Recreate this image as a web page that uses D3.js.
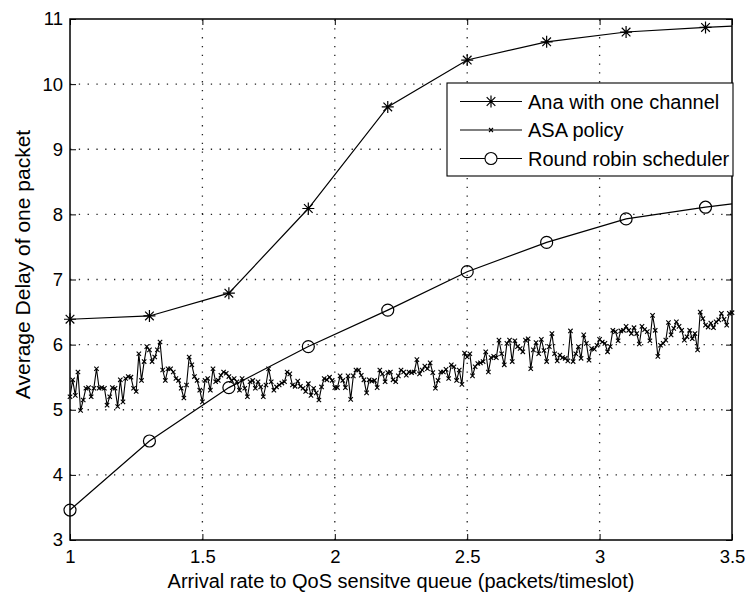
<!DOCTYPE html>
<html>
<head>
<meta charset="utf-8">
<script src="https://cdn.jsdelivr.net/npm/d3@7"></script>
<style>
  body { margin: 0; background: #fff; }
  text { font-family: "Liberation Sans", Arial, sans-serif; fill: #000; }
</style>
</head>
<body>
<div id="wrapper"></div>
<script>
// DATA
const rateX = [1, 1.3, 1.6, 1.9, 2.2, 2.5, 2.8, 3.1, 3.4, 3.5];
const anaDelay = [6.39, 6.44, 6.79, 8.09, 9.65, 10.37, 10.65, 10.80, 10.87, 10.89];
const rrDelay = [3.46, 4.52, 5.34, 5.97, 6.53, 7.12, 7.57, 7.93, 8.11, 8.16];

// ASA policy, sampled every 0.01 from 1.00 to 3.50
const asaStart = 1;
const asaStep = 0.01;
const asaDelay = [
  5.20, 5.46, 5.22, 5.58, 4.99, 5.15, 5.33, 5.34, 5.20, 5.33,
  5.63, 5.33, 5.34, 5.33, 5.07, 5.20, 5.34, 5.33, 5.05, 5.46,
  5.12, 5.48, 5.51, 5.50, 5.33, 5.28, 5.86, 5.45, 5.74, 5.97,
  5.92, 5.74, 5.81, 5.92, 6.04, 5.61, 5.45, 5.63, 5.63, 5.58,
  5.48, 5.45, 5.33, 5.18, 5.38, 5.81, 5.69, 5.51, 5.45, 5.30,
  5.12, 5.45, 5.48, 5.30, 5.63, 5.43, 5.45, 5.53, 5.58, 5.56,
  5.51, 5.45, 5.48, 5.43, 5.30, 5.48, 5.33, 5.20, 5.43, 5.45,
  5.33, 5.43, 5.35, 5.20, 5.38, 5.63, 5.43, 5.30, 5.35, 5.38,
  5.41, 5.43, 5.58, 5.55, 5.38, 5.36, 5.44, 5.36, 5.33, 5.28,
  5.40, 5.22, 5.33, 5.26, 5.15, 5.35, 5.48, 5.46, 5.50, 5.45,
  5.34, 5.34, 5.52, 5.45, 5.34, 5.52, 5.16, 5.52, 5.61, 5.61,
  5.53, 5.46, 5.26, 5.46, 5.44, 5.45, 5.34, 5.61, 5.55, 5.43,
  5.57, 5.58, 5.46, 5.43, 5.52, 5.61, 5.58, 5.53, 5.58, 5.57,
  5.58, 5.77, 5.55, 5.61, 5.67, 5.63, 5.72, 5.57, 5.33, 5.45,
  5.58, 5.58, 5.62, 5.48, 5.69, 5.66, 5.45, 5.61, 5.39, 5.87,
  5.81, 5.86, 5.52, 5.66, 5.71, 5.72, 5.74, 5.89, 5.58, 5.80,
  5.82, 5.80, 6.07, 5.86, 5.69, 6.02, 6.07, 5.74, 6.06, 5.97,
  5.94, 5.89, 6.07, 6.09, 5.63, 5.92, 6.03, 5.86, 6.08, 5.91,
  5.74, 5.97, 6.17, 5.86, 5.75, 5.84, 5.80, 5.79, 5.75, 6.21,
  5.74, 5.86, 5.97, 5.79, 6.15, 6.02, 5.76, 5.94, 5.93, 5.99,
  6.08, 6.04, 6.02, 5.89, 5.97, 6.22, 6.20, 6.06, 6.21, 6.22,
  6.28, 6.22, 6.17, 6.26, 6.17, 6.01, 6.28, 6.23, 6.20, 6.06,
  6.45, 6.22, 5.82, 5.99, 6.02, 6.07, 6.34, 6.15, 6.25, 6.35,
  6.28, 6.22, 6.07, 6.12, 6.22, 6.09, 6.17, 5.92, 6.50, 6.40,
  6.30, 6.27, 6.33, 6.26, 6.35, 6.38, 6.48, 6.39, 6.30, 6.48, 6.49
];

const xTicks = [1, 1.5, 2, 2.5, 3, 3.5];
const yTicks = [3, 4, 5, 6, 7, 8, 9, 10, 11];
const legendItems = ["Ana with one channel", "ASA policy", "Round robin scheduler"];

// DIMENSIONS
const width = 751, height = 597;
const plot = { left: 70, right: 732, top: 19, bottom: 540 };

const svg = d3.select("#wrapper").append("svg")
  .attr("width", width).attr("height", height);

const xScale = d3.scaleLinear().domain([1, 3.5]).range([plot.left, plot.right]);
const yScale = d3.scaleLinear().domain([3, 11]).range([plot.bottom, plot.top]);

// grid (dotted)
const grid = svg.append("g")
  .attr("stroke", "#222").attr("stroke-width", 1.3)
  .attr("stroke-dasharray", "1.3,7.5");
grid.selectAll(".gx").data(xTicks.slice(1, -1)).join("line")
  .attr("x1", d => xScale(d)).attr("x2", d => xScale(d))
  .attr("y1", plot.bottom).attr("y2", plot.top);
grid.selectAll(".gy").data(yTicks.slice(1, -1)).join("line")
  .attr("x1", plot.left).attr("x2", plot.right)
  .attr("y1", d => yScale(d)).attr("y2", d => yScale(d));

// axes, ticks pointing in
const styleAxis = g => {
  g.select(".domain").remove();
  g.selectAll(".tick line").attr("stroke", "#000");
  g.selectAll("text").style("font-size", "18.5px");
};
svg.append("g").attr("transform", `translate(0,${plot.bottom})`)
  .call(d3.axisBottom(xScale).tickValues(xTicks).tickFormat(d3.format("")).tickSizeInner(-6).tickSizeOuter(0).tickPadding(10))
  .call(styleAxis);
svg.append("g").attr("transform", `translate(${plot.left},0)`)
  .call(d3.axisLeft(yScale).tickValues(yTicks).tickFormat(d3.format("d")).tickSizeInner(-6).tickSizeOuter(0).tickPadding(7))
  .call(styleAxis);
svg.append("g").attr("transform", `translate(0,${plot.top})`)
  .call(d3.axisTop(xScale).tickValues(xTicks).tickFormat("").tickSizeInner(-6).tickSizeOuter(0))
  .call(styleAxis);
svg.append("g").attr("transform", `translate(${plot.right},0)`)
  .call(d3.axisRight(yScale).tickValues(yTicks).tickFormat("").tickSizeInner(-6).tickSizeOuter(0))
  .call(styleAxis);

svg.append("rect")
  .attr("x", plot.left).attr("y", plot.top)
  .attr("width", plot.right - plot.left).attr("height", plot.bottom - plot.top)
  .attr("fill", "none").attr("stroke", "#000").attr("stroke-width", 1.5);

// axis titles
svg.append("text")
  .attr("x", (plot.left + plot.right) / 2).attr("y", 588)
  .attr("text-anchor", "middle").style("font-size", "20px")
  .text("Arrival rate to QoS sensitve queue (packets/timeslot)");
svg.append("text")
  .attr("transform", `translate(30,${(plot.top + plot.bottom) / 2 - 15}) rotate(-90)`)
  .attr("text-anchor", "middle").style("font-size", "21px")
  .text("Average Delay of one packet");

// markers
const star = (g, cx, cy, r) => {
  const d = r * 0.72;
  g.append("path")
    .attr("d", `M${cx - r},${cy}H${cx + r}M${cx},${cy - r}V${cy + r}M${cx - d},${cy - d}L${cx + d},${cy + d}M${cx - d},${cy + d}L${cx + d},${cy - d}`)
    .attr("stroke", "#000").attr("stroke-width", 1.2).attr("fill", "none");
};
const cross = (g, cx, cy, r) => {
  g.append("path")
    .attr("d", `M${cx - r},${cy - r}L${cx + r},${cy + r}M${cx - r},${cy + r}L${cx + r},${cy - r}`)
    .attr("stroke", "#000").attr("stroke-width", 1.1).attr("fill", "none");
};

const line = d3.line().x(d => xScale(d[0])).y(d => yScale(d[1]));
const lines = svg.append("g").attr("fill", "none").attr("stroke", "#000");

// ASA policy
const asaPts = asaDelay.map((v, i) => [asaStart + i * asaStep, v]);
lines.append("path").attr("d", line(asaPts)).attr("stroke-width", 1.1);
const asaMarks = svg.append("g");
asaPts.forEach(p => cross(asaMarks, xScale(p[0]), yScale(p[1]), 2.2));

// Ana with one channel
const anaPts = rateX.map((x, i) => [x, anaDelay[i]]);
lines.append("path").attr("d", line(anaPts)).attr("stroke-width", 1.2);
const anaMarks = svg.append("g");
anaPts.filter(p => p[0] <= 3.4).forEach(p => star(anaMarks, xScale(p[0]), yScale(p[1]), 6));

// Round robin scheduler
const rrPts = rateX.map((x, i) => [x, rrDelay[i]]);
lines.append("path").attr("d", line(rrPts)).attr("stroke-width", 1.2);
svg.append("g").selectAll("circle")
  .data(rrPts.filter(p => p[0] <= 3.4)).join("circle")
  .attr("cx", d => xScale(d[0])).attr("cy", d => yScale(d[1])).attr("r", 6)
  .attr("fill", "none").attr("stroke", "#000").attr("stroke-width", 1.2);

// legend
const legend = svg.append("g");
legend.append("rect")
  .attr("x", 447).attr("y", 83).attr("width", 286).attr("height", 93)
  .attr("fill", "#fff").attr("stroke", "#000").attr("stroke-width", 1.1);
legendItems.forEach((name, i) => {
  const cy = 101.5 + i * 28.5;
  legend.append("line").attr("x1", 460).attr("x2", 522)
    .attr("y1", cy).attr("y2", cy).attr("stroke", "#000").attr("stroke-width", 1.1);
  if (i === 0) star(legend, 491, cy, 6);
  if (i === 1) cross(legend, 491, cy, 2);
  if (i === 2) legend.append("circle").attr("cx", 491).attr("cy", cy).attr("r", 6)
    .attr("fill", "#fff").attr("stroke", "#000").attr("stroke-width", 1.1);
  legend.append("text").attr("x", 528).attr("y", cy).attr("dy", "0.36em")
    .style("font-size", "20px").text(name);
});
</script>
</body>
</html>
